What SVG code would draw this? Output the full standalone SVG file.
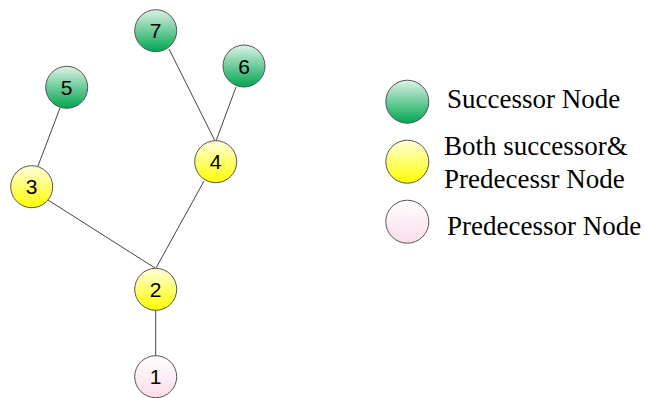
<svg xmlns="http://www.w3.org/2000/svg" width="645" height="398" viewBox="0 0 645 398">
<defs>
<linearGradient id="gGreen" x1="0" y1="0" x2="0" y2="1">
<stop offset="0" stop-color="#dcf2e6"/>
<stop offset="1" stop-color="#00a650"/>
</linearGradient>
<linearGradient id="gYellow" x1="0" y1="0" x2="0" y2="1">
<stop offset="0" stop-color="#ffffdc"/>
<stop offset="1" stop-color="#ffff00"/>
</linearGradient>
<linearGradient id="gPink" x1="0" y1="0" x2="0" y2="1">
<stop offset="0" stop-color="#ffffff"/>
<stop offset="1" stop-color="#fbdcea"/>
</linearGradient>
</defs>
<style>
.n { stroke: #555; stroke-width: 1; }
.green { fill: url(#gGreen); }
.yellow { fill: url(#gYellow); }
.pink { fill: url(#gPink); }
.lbl { font-family: "Liberation Sans", Arial, sans-serif; font-size: 21px; fill: #000; text-anchor: middle; }
.leg { font-family: "Liberation Serif", "Times New Roman", serif; font-size: 27px; fill: #000; }
.e { stroke: #444; stroke-width: 1; fill: none; }
</style>
<g id="connectors">
<line class="e" x1="169" y1="49" x2="215" y2="141"/>
<line class="e" x1="236" y1="87" x2="216" y2="141"/>
<line class="e" x1="60" y1="108" x2="38" y2="166"/>
<line class="e" x1="48" y1="200" x2="155" y2="268"/>
<line class="e" x1="204" y1="181" x2="156" y2="268"/>
<line class="e" x1="155.7" y1="310" x2="155.7" y2="356"/>
</g>
<g id="node7"><circle class="n green" cx="155.7" cy="30.7" r="21"/><text class="lbl" x="155.7" y="38.2">7</text></g>
<g id="node6"><circle class="n green" cx="244" cy="66" r="21"/><text class="lbl" x="244" y="73.5">6</text></g>
<g id="node5"><circle class="n green" cx="66.7" cy="87.3" r="21"/><text class="lbl" x="66.7" y="94.8">5</text></g>
<g id="node3"><circle class="n yellow" cx="31.7" cy="186.7" r="21"/><text class="lbl" x="31.7" y="194.2">3</text></g>
<g id="node4"><circle class="n yellow" cx="215.7" cy="161.7" r="21"/><text class="lbl" x="215.7" y="169.2">4</text></g>
<g id="node2"><circle class="n yellow" cx="155.7" cy="289.3" r="21"/><text class="lbl" x="155.7" y="296.8">2</text></g>
<g id="node1"><circle class="n pink" cx="155.7" cy="376.7" r="21"/><text class="lbl" x="155.7" y="384.2">1</text></g>
<g id="legend-successor"><circle class="n green" cx="407.3" cy="101.7" r="21.5"/><text class="leg" x="447" y="108.3">Successor Node</text></g>
<g id="legend-both"><circle class="n yellow" cx="407.3" cy="161.7" r="21.5"/><text class="leg" x="444" y="155">Both successor&amp;</text><text class="leg" x="444" y="188.3">Predecessr Node</text></g>
<g id="legend-predecessor"><circle class="n pink" cx="407.3" cy="221.7" r="21.5"/><text class="leg" x="447" y="235">Predecessor Node</text></g>
</svg>
